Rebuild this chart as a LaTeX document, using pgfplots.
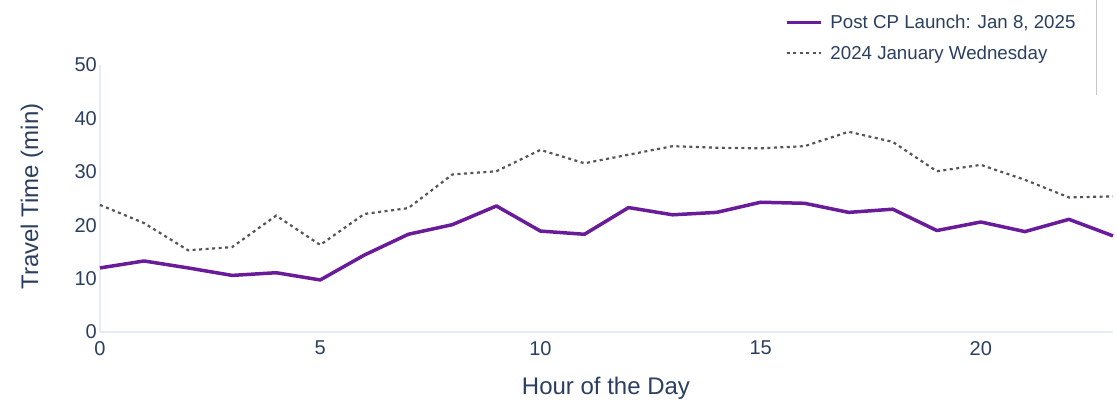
\documentclass[border=0pt]{standalone}
\usepackage{pgfplots}
\pgfplotsset{compat=1.18}
\usepackage{fontspec}
\setmainfont{Liberation Sans}
\definecolor{txt}{HTML}{2A3F5F}
\definecolor{cpline}{HTML}{6A1B9A}
\definecolor{oldline}{HTML}{555555}
\definecolor{axln}{HTML}{E5ECF6}

\begin{document}
\begin{tikzpicture}[x=1pt,y=1pt]
\path[use as bounding box] (0,0) rectangle (1117,400);
\draw[line width=1pt, black!22] (1096,400) -- (1096,305);
\begin{axis}[
  at={(100pt,68pt)}, anchor=south west,
  scale only axis,
  width=1013pt, height=267pt,
  xmin=0, xmax=23, ymin=0, ymax=50,
  xtick={0,5,10,15,20}, ytick={0,10,20,30,40,50},
  axis x line*=bottom, axis y line*=left,
  axis line style={draw=axln, line width=2pt, -},
  major tick length=0pt,
  /pgf/number format/assume math mode=true,
  tick label style={font=\fontsize{20}{24}\selectfont, text=txt},
  yticklabel style={inner sep=0pt, xshift=-3pt},
  xticklabel style={inner sep=0pt, yshift=-9pt},
  xlabel={Hour of the Day},
  ylabel={Travel Time (min)},
  every axis x label/.style={at={(axis description cs:0.4995,-0.21)}, anchor=center,
    font=\fontsize{24}{28}\selectfont, text=txt},
  every axis y label/.style={at={(axis description cs:-0.0671,0.507)}, rotate=90, anchor=center,
    font=\fontsize{24}{28}\selectfont, text=txt},
  clip=false,
  legend cell align=left,
  legend style={at={(axis description cs:0.676,1.189)}, anchor=north west,
    draw=none, fill=none, inner sep=0pt, row sep=16pt, column sep=8pt,
    font=\fontsize{18.7}{22}\selectfont, text=txt,
    nodes={inner sep=0pt}},
  legend image code/.code={\draw[#1] (0pt,0pt) -- (34pt,0pt);},
]
\addplot[cpline, line width=3.5pt, line join=round] coordinates {
(0,12.0) (1,13.3) (2,12.0) (3,10.6) (4,11.1) (5,9.75) (6,14.4) (7,18.3)
(8,20.1) (9,23.6) (10,18.9) (11,18.3) (12,23.3) (13,21.95) (14,22.4) (15,24.3)
(16,24.1) (17,22.4) (18,23.0) (19,19.0) (20,20.6) (21,18.8) (22,21.1) (23,18.0)
};
\addlegendentry{Post CP Launch: Jan 8, 2025}
\addplot[oldline, line width=2.2pt, dash pattern=on 3pt off 3.5pt] coordinates {
(0,23.8) (1,20.4) (2,15.3) (3,15.9) (4,21.8) (5,16.3) (6,22.1) (7,23.2)
(8,29.5) (9,30.1) (10,34.1) (11,31.6) (12,33.2) (13,34.8) (14,34.5) (15,34.4)
(16,34.8) (17,37.5) (18,35.6) (19,30.1) (20,31.3) (21,28.5) (22,25.2) (23,25.4)
};
\addlegendentry{2024 January Wednesday}
\end{axis}
\end{tikzpicture}
\end{document}
